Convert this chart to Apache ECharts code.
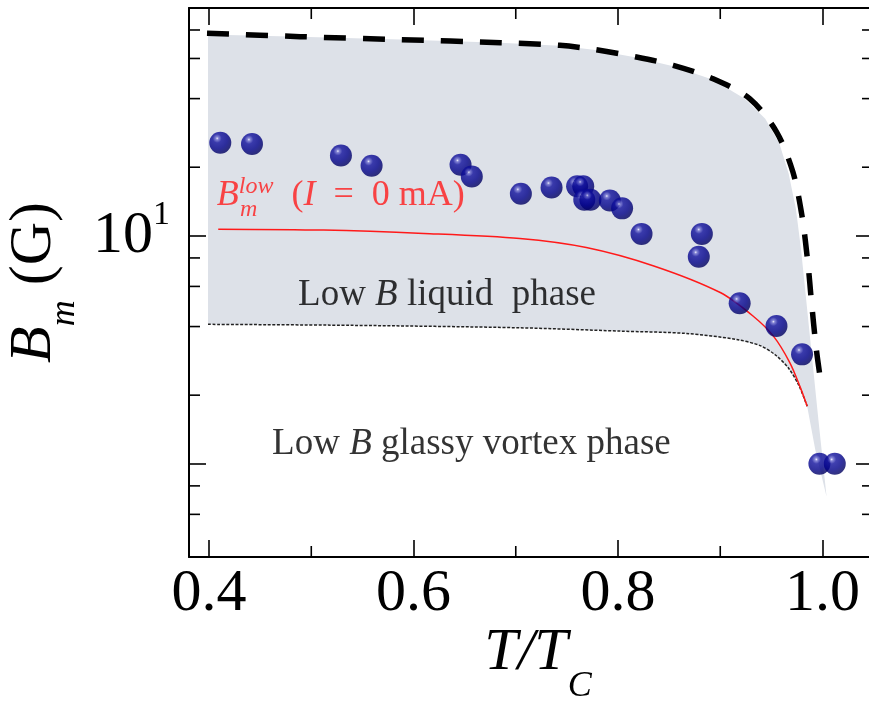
<!DOCTYPE html>
<html>
<head>
<meta charset="utf-8">
<title>Bm vs T/Tc</title>
<script src="https://cdn.jsdelivr.net/npm/echarts@6/dist/echarts.min.js"></script>
<style>
  html, body { margin: 0; padding: 0; background: #fff; }
  #chart { width: 869px; height: 702px; }
</style>
</head>
<body>
<div id="chart"></div>
<script>
// measured Bm points (balls)
var ptT = [0.411, 0.442, 0.529, 0.559, 0.646, 0.657, 0.705, 0.735, 0.760, 0.766, 0.767, 0.773, 0.792, 0.804, 0.823, 0.882, 0.879, 0.919, 0.955, 0.980, 0.997, 1.012];
var ptB = [25.6, 25.3, 22.5, 20.3, 20.5, 18.2, 15.3, 16.3, 16.5, 16.5, 14.4, 14.4, 14.3, 13.2, 10.2, 10.2, 8.1, 5.06, 4.02, 3.02, 1.0, 1.0];

// thick dashed upper line
var dashT = [0.398, 0.489, 0.587, 0.685, 0.743, 0.776, 0.818, 0.854, 0.893, 0.929, 0.955, 0.971, 0.980, 0.986, 0.989, 0.994, 0.999];
var dashB = [77.5, 74.8, 72.6, 70.4, 68.5, 65.8, 60.9, 56.0, 48.9, 39.9, 28.6, 19.1, 12.2, 7.38, 5.27, 3.17, 2.19];

// thin dotted lower line
var dotT = [0.399, 0.538, 0.704, 0.802, 0.867, 0.916, 0.939, 0.954, 0.967, 0.977, 0.985];
var dotB = [4.09, 4.05, 3.95, 3.82, 3.73, 3.51, 3.30, 3.00, 2.62, 2.20, 1.79];

// red Bm_low (I = 0 mA) curve
var redT = [0.409, 0.512, 0.610, 0.704, 0.769, 0.835, 0.900, 0.932, 0.952, 0.968, 0.978, 0.985];
var redB = [10.7, 10.6, 10.25, 9.74, 8.89, 7.38, 5.64, 4.45, 3.63, 2.78, 2.18, 1.79];

// shaded liquid-phase region: top edge, then lower edge back to the left
var fillTopT = [0.399, 0.489, 0.587, 0.685, 0.743, 0.776, 0.818, 0.854, 0.893, 0.924, 0.944, 0.958, 0.967, 0.974, 0.979, 0.984, 0.989, 0.996, 1.004];
var fillTopB = [76.5, 74.8, 72.6, 70.4, 68.3, 65.6, 60.6, 55.5, 48.4, 39.9, 32.6, 25.3, 18.7, 13.1, 8.74, 5.27, 3.17, 1.56, 0.716];
var fillLowT = [0.993, 0.985, 0.977, 0.967, 0.954, 0.939, 0.916, 0.867, 0.802, 0.704, 0.538, 0.399];
var fillLowB = [1.15, 1.79, 2.20, 2.62, 3.00, 3.30, 3.51, 3.73, 3.82, 3.95, 4.05, 4.09];

// ticks
var xMajor = [0.4, 0.6, 0.8, 1.0];
var xMinor = [0.5, 0.7, 0.9];
var yMinor = [0.6, 0.8, 2, 4, 6, 8, 20, 40, 60, 80];

// text annotations (anchor = left edge, vertical middle)
var annoT = [0.4075, 0.4303, 0.487, 0.4616];
var annoB = [15.1, 13.0, 5.48, 1.215];
var annoText = [
  '{rB|B}{rsup|low}{rt|  (}{ri|I}{rt|\u2002=\u20020 mA)}',
  '{rsub|m}',
  '{n|Low }{ni|B}{n| liquid  phase}',
  '{n|Low }{ni|B}{n| glassy vortex phase}'
];

var FONT = 'Liberation Serif';
var xMin = 0.3804, xMax = 1.0494, yMin = 0.39, yMax = 99.9;
var RED = '#ff1a1a';

function zip(a, b) {
  return a.map(function (v, i) { return [v, b[i]]; });
}

function tok(size, h, italic, color) {
  return {
    fontFamily: FONT, fontSize: size, fontStyle: italic ? 'italic' : 'normal',
    height: h, lineHeight: h, verticalAlign: 'top', color: color || '#000'
  };
}

var chart = echarts.init(document.getElementById('chart'));

var frameLine = { show: true, onZero: false, lineStyle: { color: '#000', width: 2 } };
var tickStyle = { color: '#000', width: 1.6 };

var sphere = new echarts.graphic.RadialGradient(0.36, 0.3, 0.72, [
  { offset: 0, color: '#f0f0ff' },
  { offset: 0.09, color: '#6e6ed0' },
  { offset: 0.28, color: '#10109c' },
  { offset: 0.65, color: '#000088' },
  { offset: 1, color: '#00005e' }
]);

var tickData = yMinor.map(function (v) { return [xMin, v, 0]; })
  .concat(xMinor.map(function (v) { return [v, 1, 1]; }));

var option = {
  animation: false,
  backgroundColor: '#fff',
  textStyle: { fontFamily: FONT },
  grid: { left: 189, top: 8, width: 684, height: 549, containLabel: false, outerBoundsMode: 'none' },
  xAxis: [
    {
      type: 'value', position: 'bottom', min: xMin, max: xMax,
      axisLine: frameLine,
      axisTick: { inside: true, length: 17, customValues: xMajor, lineStyle: tickStyle },
      axisLabel: {
        customValues: xMajor, margin: 7,
        formatter: function (v) { return '{v|' + v.toFixed(1) + '}'; },
        rich: { v: tok(60, 60, false) }
      },
      splitLine: { show: false },
      name: '{i|T/T}{s|C}', nameLocation: 'middle', nameGap: 66, nameMoveOverlap: false,
      nameTextStyle: {
        padding: [0, 0, 0, 14],
        rich: { i: tok(60, 60, true), s: tok(36, 128, true) }
      }
    },
    {
      type: 'value', position: 'top', min: xMin, max: xMax,
      axisLine: frameLine,
      axisTick: { inside: true, length: 17, customValues: xMajor, lineStyle: tickStyle },
      axisLabel: { show: false },
      splitLine: { show: false }
    }
  ],
  yAxis: [
    {
      type: 'log', logBase: 10, position: 'left', min: yMin, max: yMax,
      axisLine: frameLine,
      axisTick: { inside: true, length: 17, lineStyle: tickStyle },
      minorTick: { show: false },
      axisLabel: {
        margin: 19,
        formatter: function (v) { return Math.abs(v - 10) < 1e-6 ? '{b|10}{s|1}' : ''; },
        rich: { b: tok(60, 60, false), s: tok(34, 19, false) }
      },
      splitLine: { show: false },
      name: '{b|B}{m|m}{g| (G)}', nameLocation: 'middle', nameRotate: 90, nameGap: 63,
      nameMoveOverlap: false,
      nameTextStyle: {
        rich: { b: tok(60, 60, true), m: tok(36, 122, true), g: tok(60, 60, false) }
      }
    },
    {
      type: 'log', logBase: 10, position: 'right', min: yMin, max: yMax,
      axisLine: frameLine,
      axisTick: { inside: true, length: 17, lineStyle: tickStyle },
      minorTick: { show: false },
      axisLabel: { show: false },
      splitLine: { show: false }
    }
  ],
  series: [
    {
      // shaded region
      type: 'custom', coordinateSystem: 'cartesian2d', silent: true, z: 1, clip: false,
      data: [[fillTopT[0], fillTopB[0]]],
      renderItem: function (params, api) {
        var pts = [];
        fillTopT.forEach(function (t, i) { pts.push(api.coord([t, fillTopB[i]])); });
        fillLowT.forEach(function (t, i) { pts.push(api.coord([t, fillLowB[i]])); });
        return { type: 'polygon', shape: { points: pts }, style: { fill: '#dde1e8' } };
      }
    },
    {
      // minor ticks on all four sides
      type: 'custom', coordinateSystem: 'cartesian2d', silent: true, z: 5, clip: false,
      data: tickData,
      renderItem: function (params, api) {
        var cs = params.coordSys;
        var p = api.coord([api.value(0), api.value(1)]);
        var L = 11, st = { stroke: '#000', lineWidth: 1.6 };
        if (api.value(2) === 0) {
          return { type: 'group', children: [
            { type: 'line', shape: { x1: cs.x, y1: p[1], x2: cs.x + L, y2: p[1] }, style: st },
            { type: 'line', shape: { x1: cs.x + cs.width - L, y1: p[1], x2: cs.x + cs.width, y2: p[1] }, style: st }
          ] };
        }
        return { type: 'group', children: [
          { type: 'line', shape: { x1: p[0], y1: cs.y + cs.height, x2: p[0], y2: cs.y + cs.height - L }, style: st },
          { type: 'line', shape: { x1: p[0], y1: cs.y, x2: p[0], y2: cs.y + L }, style: st }
        ] };
      }
    },
    {
      type: 'line', data: zip(dotT, dotB), symbol: 'none', smooth: 0.3, z: 3, silent: true,
      lineStyle: { color: '#222', width: 1.5, type: [3, 1.6] }
    },
    {
      type: 'line', data: zip(redT, redB), symbol: 'none', smooth: 0.3, z: 4, silent: true,
      lineStyle: { color: RED, width: 1.5 }
    },
    {
      type: 'line', data: zip(dashT, dashB), symbol: 'none', smooth: 0.3, z: 4, silent: true,
      lineStyle: { color: '#000', width: 5.5, type: [22, 17], cap: 'butt' }
    },
    {
      type: 'scatter', data: zip(ptT, ptB), symbol: 'circle', symbolSize: 22, z: 10,
      itemStyle: { color: sphere }
    },
    {
      type: 'scatter', data: zip(annoT, annoB), symbolSize: 0.1, z: 12, silent: true,
      itemStyle: { color: 'transparent' },
      label: {
        show: true, position: 'right', distance: 0,
        formatter: function (p) { return annoText[p.dataIndex]; },
        rich: {
          rB: tok(36, 40, true, RED),
          rsup: tok(24, 24, true, RED),
          rt: tok(36, 40, false, RED),
          ri: tok(36, 40, true, RED),
          rsub: tok(24, 24, true, RED),
          n: tok(37, 40, false),
          ni: tok(37, 40, true)
        }
      }
    }
  ]
};

chart.setOption(option);
</script>
</body>
</html>
